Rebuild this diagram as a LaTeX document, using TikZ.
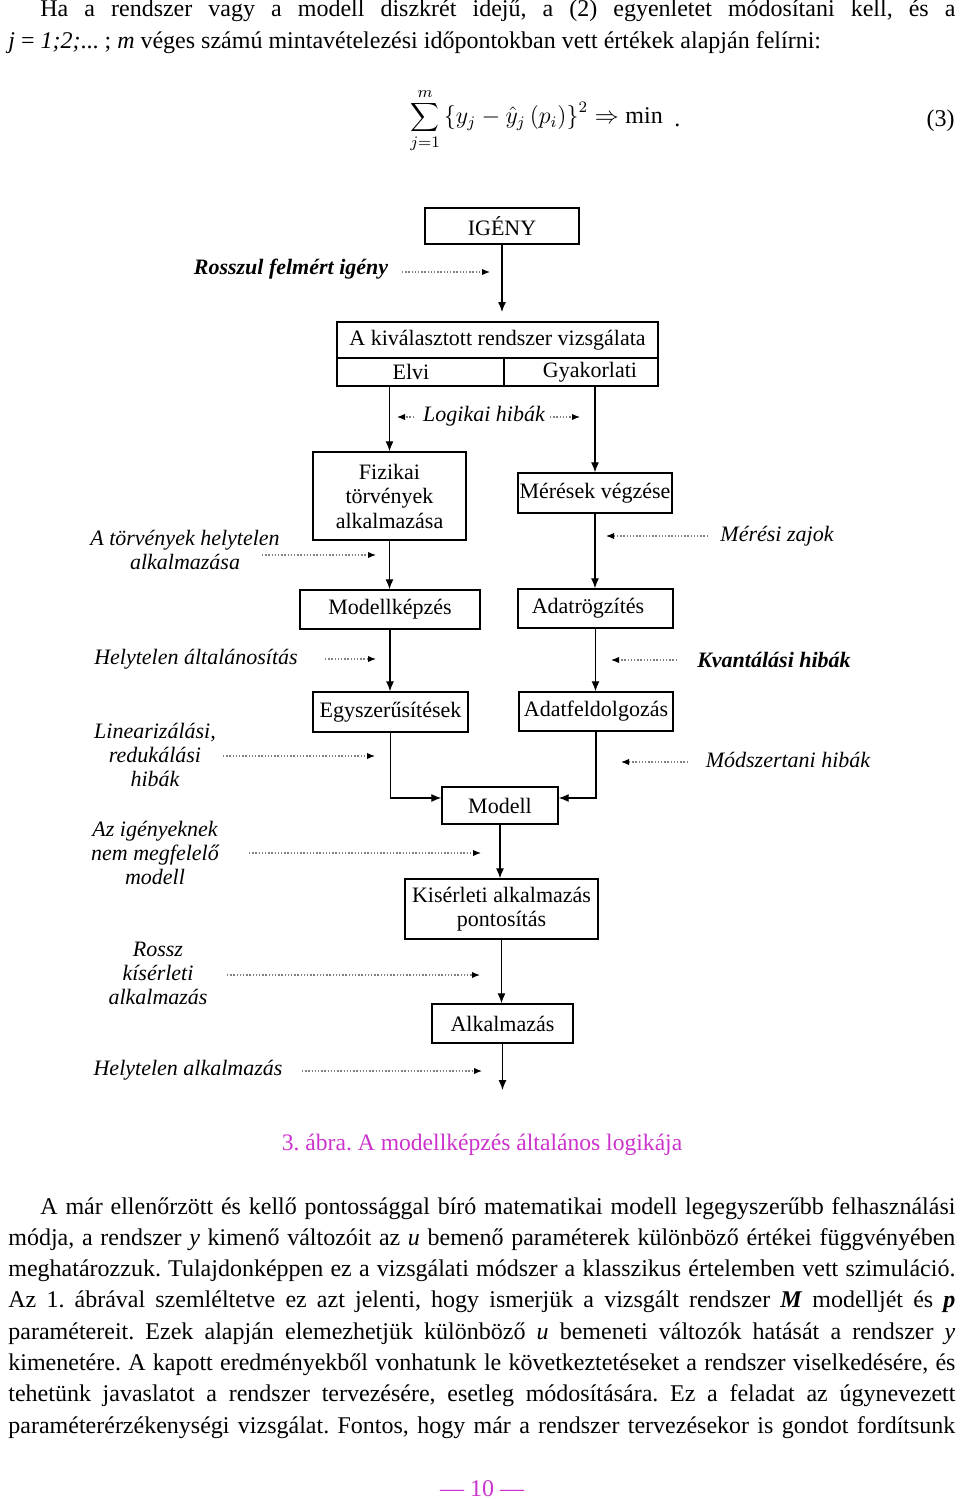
\documentclass[tikz,border=0pt]{standalone}
\usepackage{fontspec}
\setmainfont{Liberation Serif}
\usetikzlibrary{arrows.meta}
\definecolor{capmag}{RGB}{204,51,204}
\frenchspacing
\begin{document}
\begin{tikzpicture}[x=0.5pt,y=-0.5pt,
  box/.style={draw,line width=0.7pt,inner sep=0pt,align=center,font=\fontsize{11}{12.25}\selectfont},
  lab/.style={align=center,inner sep=0pt,font=\fontsize{11}{12}\selectfont\itshape},
  blab/.style={align=center,inner sep=0pt,font=\fontsize{11}{12}\selectfont\bfseries\itshape},
  flow/.style={line width=0.6pt,-{Latex[length=5pt,width=4pt]}},
  err/.style={gray,line width=0.6pt,dash pattern=on 0.7pt off 0.9pt,-{Latex[length=4pt,width=3.2pt,black]}},
  txt/.style={inner sep=0pt,anchor=base west,font=\fontsize{12}{15.5}\selectfont}
]
\fill[white] (0,0) rectangle (960,1499);
\useasboundingbox (0,0) rectangle (960,1499);

% ---- top text ----
\node[txt] (t1) at (40,17) {\makebox[457.5pt][s]{Ha a rendszer vagy a modell diszkrét idejű, a (2) egyenletet módosítani kell, és a}};
\node[txt] (t2) at (8,48) {\textit{j} = \textit{1;2;}... ; \textit{m} véges számú mintavételezési időpontokban vett értékek alapján felírni:};
\node[inner sep=0pt,anchor=west,font=\fontsize{12}{14}\selectfont] (eq) at (410,121)
  {$\displaystyle\sum_{j=1}^{m}\left\{y_j-\hat y_j\left(p_i\right)\right\}^{2}\Rightarrow\min$};
\node[txt] (dot) at (674,126) {.};
\node[txt,anchor=base east] (eqn) at (955,126) {(3)};

% ---- boxes ----
\node[box,minimum width=77pt,minimum height=18pt] (igeny) at (502,226) {IGÉNY};
\node[box,minimum width=160.5pt,minimum height=18pt] (vizsg) at (497.5,340) {A kiválasztott rendszer vizsgálata};
\node[box,minimum width=83.5pt,minimum height=14pt] (elvi) at (420.5,372) {\hspace*{-9.5pt}Elvi};
\node[box,minimum width=77pt,minimum height=14pt] (gyak) at (581,372) {\hspace*{9pt}Gyakorlati};
\node[box,minimum width=76.5pt,minimum height=44pt] (fiz) at (389.5,496) {Fizikai\\törvények\\alkalmazása};
\node[box,minimum width=77pt,minimum height=20pt] (meres) at (595,493) {Mérések végzése};
\node[box,minimum width=90pt,minimum height=19.5pt] (modk) at (390,609.5) {Modellképzés};
\node[box,minimum width=77.5pt,minimum height=19.5pt] (adatr) at (595.5,608.5) {\hspace*{-7.5pt}Adatrögzítés};
\node[box,minimum width=77.5pt,minimum height=20pt] (egysz) at (390.5,712) {Egyszerűsítések};
\node[box,minimum width=77pt,minimum height=19.5pt] (adatf) at (596,711.5) {Adatfeldolgozás};
\node[box,minimum width=58pt,minimum height=18.5pt] (modell) at (500,805.5) {Modell};
\node[box,minimum width=96.5pt,minimum height=30pt] (kis) at (501.5,909) {Kisérleti alkalmazás\\pontosítás};
\node[box,minimum width=70.5pt,minimum height=19.5pt] (alk) at (502.5,1023.5) {Alkalmazás};

% ---- flow connectors ----
\coordinate (igEnd) at (502,312);
\coordinate (alkEnd) at (505,1090);
\draw[flow] (igeny.south) -- (igEnd);
\draw[flow] (fiz.north |- elvi.south) -- (fiz.north);
\draw[flow] (meres.north |- gyak.south) -- (meres.north);
\draw[flow] (fiz.south) -- (fiz.south |- modk.north);
\draw[flow] (meres.south) -- (meres.south |- adatr.north);
\draw[flow] (modk.south) -- (modk.south |- egysz.north);
\draw[flow] (adatr.south) -- (adatr.south |- adatf.north);
\draw[flow] (egysz.south) |- ([yshift=3.75pt]modell.west);
\draw[flow] (adatf.south) |- ([yshift=3.75pt]modell.east);
\draw[flow] (modell.south) -- (modell.south |- kis.north);
\draw[flow] (kis.south) -- (kis.south |- alk.north);
\draw[flow] (alk.south) -- (alk.south |- alkEnd);

% ---- error labels ----
\node[blab] (l1) at (291,269) {Rosszul felmért igény};
\node[lab] (l2) at (484,416) {Logikai hibák};
\node[lab] (l3) at (185,550) {A törvények helytelen\\alkalmazása};
\node[lab] (l4) at (777,536) {Mérési zajok};
\node[lab] (l5) at (196,659) {Helytelen általánosítás};
\node[blab] (l6) at (774,660) {Kvantálási hibák};
\node[lab] (l7) at (155,755) {Linearizálási,\\redukálási\\hibák};
\node[lab] (l8) at (788,760) {Módszertani hibák};
\node[lab] (l9) at (155,853) {Az igényeknek\\nem megfelelő\\modell};
\node[lab] (l10) at (158,973) {Rossz\\kísérleti\\alkalmazás};
\node[lab] (l11) at (188,1070) {Helytelen alkalmazás};

% ---- dotted error arrows ----
\coordinate (a1s) at (402,272);  \coordinate (a1e) at (490,272);
\coordinate (a2s) at (414,417);  \coordinate (a2e) at (397,417);
\coordinate (a3s) at (550,417);  \coordinate (a3e) at (580,417);
\coordinate (a4s) at (262,555);  \coordinate (a4e) at (376,555);
\coordinate (a5s) at (708,536);  \coordinate (a5e) at (606,536);
\coordinate (a6s) at (325,659);  \coordinate (a6e) at (376,659);
\coordinate (a7s) at (677,660);  \coordinate (a7e) at (611,660);
\coordinate (a8s) at (223,756);  \coordinate (a8e) at (375,756);
\coordinate (a9s) at (688,762);  \coordinate (a9e) at (621,762);
\coordinate (a10s) at (249,853); \coordinate (a10e) at (481,853);
\coordinate (a11s) at (227,975); \coordinate (a11e) at (480,975);
\coordinate (a12s) at (302,1071);\coordinate (a12e) at (482,1071);
\foreach \i in {1,...,12} {\draw[err] (a\i s) -- (a\i e);}

% ---- caption ----
\node[txt,anchor=base,text=capmag,font=\fontsize{11.8}{14}\selectfont] (cap) at (482,1150) {3. ábra. A modellképzés általános logikája};

% ---- body paragraph ----
\node[txt] (p1) at (40,1214) {\makebox[457.5pt][s]{A már ellenőrzött és kellő pontossággal bíró matematikai modell legegyszerűbb felhasználási}};
\node[txt] (p2) at (8,1245.3) {\makebox[473.5pt][s]{módja, a rendszer \textit{y} kimenő változóit az \textit{u} bemenő paraméterek különböző értékei függvényében}};
\node[txt] (p3) at (8,1276.6) {\makebox[473.5pt][s]{meghatározzuk. Tulajdonképpen ez a vizsgálati módszer a klasszikus értelemben vett szimuláció.}};
\node[txt] (p4) at (8,1307.9) {\makebox[473.5pt][s]{Az 1. ábrával szemléltetve ez azt jelenti, hogy ismerjük a vizsgált rendszer \textbf{\textit{M}} modelljét és \textbf{\textit{p}}}};
\node[txt] (p5) at (8,1339.2) {\makebox[473.5pt][s]{paramétereit. Ezek alapján elemezhetjük különböző \textit{u} bemeneti változók hatását a rendszer \textit{y}}};
\node[txt] (p6) at (8,1370.5) {\makebox[473.5pt][s]{kimenetére. A kapott eredményekből vonhatunk le következtetéseket a rendszer viselkedésére, és}};
\node[txt] (p7) at (8,1401.8) {\makebox[473.5pt][s]{tehetünk javaslatot a rendszer tervezésére, esetleg módosítására. Ez a feladat az úgynevezett}};
\node[txt] (p8) at (8,1433) {\makebox[473.5pt][s]{paraméterérzékenységi vizsgálat. Fontos, hogy már a rendszer tervezésekor is gondot fordítsunk}};

% ---- page number ----
\node[txt,anchor=base,text=capmag,font=\fontsize{12}{14}\selectfont] (pg) at (482,1496) {— 10 —};
\end{tikzpicture}
\end{document}
